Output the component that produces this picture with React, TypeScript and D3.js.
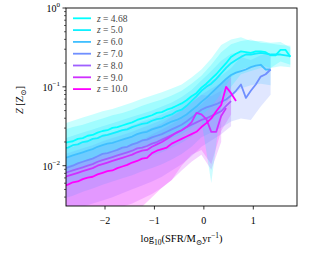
import React from 'react';
import * as d3 from 'd3';

// redshift labels + colours (matplotlib "cool" picks)
const redshifts = ['4.68', '5.0', '6.0', '7.0', '8.0', '9.0', '10.0'];
const colors = ['#00ffff', '#0ff0ff', '#40bfff', '#708fff', '#9f60ff', '#cf30ff', '#ff00ff'];

// log10(SFR) bins for the median lines
const sfrGrid = [
  -2.85, -2.75, -2.65, -2.55, -2.45, -2.35, -2.25, -2.15, -2.05, -1.95,
  -1.85, -1.75, -1.65, -1.55, -1.45, -1.35, -1.25, -1.15, -1.05, -0.95,
  -0.85, -0.75, -0.65, -0.55, -0.45, -0.35, -0.25, -0.15, -0.05, 0.05,
  0.15, 0.25, 0.35, 0.45, 0.55, 0.65, 0.75, 0.85, 0.95, 1.05,
  1.15, 1.25, 1.35, 1.45, 1.55, 1.65, 1.75,
];

// median log10(Z/Zsun) per bin
const medZ468 = [
  -1.72, -1.70, -1.69, -1.66, -1.65, -1.62, -1.61, -1.58, -1.56, -1.55,
  -1.52, -1.51, -1.49, -1.47, -1.45, -1.42, -1.40, -1.38, -1.36, -1.33,
  -1.32, -1.29, -1.27, -1.24, -1.21, -1.17, -1.12, -1.08, -1.01, -0.96,
  -0.90, -0.84, -0.77, -0.70, -0.62, -0.58, -0.55, -0.56, -0.57, -0.55,
  -0.55, -0.56, -0.60, -0.60, -0.53, -0.53, -0.62,
];
const medZ50 = [
  -1.78, -1.77, -1.74, -1.73, -1.70, -1.69, -1.66, -1.65, -1.62, -1.61,
  -1.59, -1.57, -1.55, -1.54, -1.51, -1.49, -1.47, -1.46, -1.43, -1.41,
  -1.40, -1.37, -1.35, -1.31, -1.29, -1.24, -1.18, -1.12, -1.05, -1.00,
  -0.96, -0.90, -0.83, -0.76, -0.70, -0.66, -0.62, -0.59, -0.59, -0.58,
  -0.57, -0.58, -0.59, -0.59, -0.59, -0.60, -0.61,
];
const medZ60 = [
  -1.91, -1.89, -1.87, -1.85, -1.83, -1.81, -1.79, -1.76, -1.74, -1.72,
  -1.71, -1.69, -1.67, -1.65, -1.63, -1.60, -1.58, -1.57, -1.54, -1.52,
  -1.50, -1.47, -1.44, -1.42, -1.39, -1.35, -1.30, -1.25, -1.19, -1.14,
  -1.08, -1.02, -0.96, -0.90, -0.85, -0.82, -0.80, -0.78, -0.75, -0.73,
  -0.72, -0.78, -0.78, null, null, null, null,
];
const medZ70 = [
  -2.04, -2.02, -2.00, -1.97, -1.95, -1.93, -1.91, -1.88, -1.85, -1.84,
  -1.82, -1.80, -1.77, -1.76, -1.73, -1.71, -1.68, -1.67, -1.64, -1.62,
  -1.60, -1.57, -1.54, -1.51, -1.48, -1.44, -1.39, -1.34, -1.29, -1.26,
  -1.24, -1.22, -1.19, -1.16, -1.11, -1.05, -0.97, -1.14, -1.05, -0.97,
  -0.87, -0.84, -0.78, null, null, null, null,
];
const medZ80 = [
  -2.10, -2.08, -2.06, -2.04, -2.02, -2.00, -1.98, -1.95, -1.93, -1.91,
  -1.89, -1.87, -1.85, -1.83, -1.81, -1.78, -1.77, -1.75, -1.72, -1.70,
  -1.67, -1.64, -1.61, -1.58, -1.55, -1.51, -1.48, -1.45, -1.42, -1.40,
  -1.37, -1.34, -1.31, -1.24, -1.18, null, null, null, null, null,
  null, null, null, null, null, null, null,
];
const medZ90 = [
  -2.15, -2.13, -2.11, -2.09, -2.07, -2.05, -2.03, -2.00, -1.98, -1.96,
  -1.94, -1.92, -1.90, -1.88, -1.86, -1.83, -1.81, -1.80, -1.76, -1.73,
  -1.70, -1.66, -1.62, -1.58, -1.55, -1.51, -1.45, -1.33, -1.35, -1.41,
  -1.57, -1.57, -1.37, -1.27, null, null, null, null, null, null,
  null, null, null, null, null, null, null,
];
const medZ100 = [
  -2.26, -2.24, -2.21, -2.20, -2.17, -2.15, -2.14, -2.11, -2.09, -2.07,
  -2.06, -2.03, -2.01, -1.99, -1.96, -1.94, -1.91, -1.90, -1.84, -1.81,
  -1.79, -1.77, -1.72, -1.69, -1.66, -1.63, -1.60, -1.57, -1.51, -1.46,
  -1.40, -1.31, -1.23, -1.00, -1.08, -1.18, null, null, null, null,
  null, null, null, null, null, null, null,
];

// coarser bins for the scatter bands (16th / 84th percentiles)
const bandGrid = [
  -2.85, -2.65, -2.45, -2.25, -2.05, -1.85, -1.65, -1.45, -1.25, -1.05,
  -0.85, -0.65, -0.45, -0.25, -0.05, 0.15, 0.35, 0.55, 0.75, 0.95,
  1.15, 1.35, 1.55, 1.75,
];
const hiZ468 = [-1.47, -1.43, -1.39, -1.35, -1.31, -1.28, -1.24, -1.20, -1.15, -1.11, -1.07, -1.02, -0.97, -0.88, -0.78, -0.64, -0.47, -0.40, -0.37, -0.42, -0.42, -0.44, -0.43, -0.50];
const loZ468 = [-2.02, -1.99, -1.95, -1.91, -1.86, -1.82, -1.79, -1.75, -1.70, -1.66, -1.62, -1.58, -1.53, -1.45, -1.36, -1.26, -1.08, -0.88, -0.78, -0.74, -0.72, -0.76, -0.68, -0.72];
const hiZ50 = [-1.55, -1.51, -1.48, -1.44, -1.40, -1.36, -1.33, -1.29, -1.24, -1.20, -1.16, -1.11, -1.05, -0.96, -0.86, -0.72, -0.56, -0.46, -0.42, -0.40, -0.44, -0.45, -0.47, -0.48];
const loZ50 = [-2.10, -2.06, -2.02, -1.98, -1.94, -1.90, -1.86, -1.82, -1.78, -1.74, -1.70, -1.65, -1.60, -1.52, -1.42, -2.22, -1.25, -1.00, -0.84, -0.80, -0.76, -0.76, -0.74, -0.75];
const hiZ60 = [-1.66, -1.62, -1.58, -1.54, -1.50, -1.46, -1.42, -1.38, -1.34, -1.30, -1.25, -1.20, -1.13, -1.04, -0.92, -0.80, -0.67, -0.58, -0.56, -0.56, -0.55, -0.60, null, null];
const loZ60 = [-2.25, -2.21, -2.17, -2.13, -2.08, -2.04, -2.00, -1.96, -1.91, -1.87, -1.83, -1.77, -1.71, -1.63, -1.52, -1.42, -1.30, -1.12, -1.02, -0.98, -0.96, -0.98, null, null];
const hiZ70 = [-1.80, -1.76, -1.71, -1.67, -1.62, -1.58, -1.54, -1.49, -1.44, -1.40, -1.35, -1.29, -1.22, -1.12, -1.00, -0.92, -0.86, -0.76, -0.62, -0.66, -0.60, -0.58, null, null];
const loZ70 = [-2.42, -2.38, -2.33, -2.29, -2.24, -2.20, -2.16, -2.12, -2.07, -2.03, -1.98, -1.92, -1.85, -1.76, -1.64, -1.58, -1.52, -1.44, -1.40, -1.42, -1.25, -1.10, null, null];
const hiZ80 = [-1.86, -1.82, -1.78, -1.74, -1.69, -1.65, -1.61, -1.57, -1.52, -1.47, -1.42, -1.36, -1.29, -1.20, -1.10, -1.02, -0.95, -0.88, null, null, null, null, null, null];
const loZ80 = [-2.60, -2.56, -2.52, -2.48, -2.44, -2.40, -2.35, -2.30, -2.25, -2.20, -2.14, -2.06, -1.98, -1.88, -1.76, -1.68, -1.60, -1.50, null, null, null, null, null, null];
const hiZ90 = [-1.92, -1.88, -1.84, -1.80, -1.75, -1.71, -1.67, -1.62, -1.57, -1.52, -1.46, -1.38, -1.30, -1.20, -1.10, -1.12, -1.05, null, null, null, null, null, null, null];
const loZ90 = [-2.75, -2.72, -2.68, -2.64, -2.60, -2.56, -2.52, -2.48, -2.42, -2.36, -2.28, -2.18, -2.06, -1.95, -1.86, -2.05, -1.70, null, null, null, null, null, null, null];
const hiZ100 = [-2.02, -1.98, -1.94, -1.90, -1.86, -1.82, -1.78, -1.73, -1.67, -1.60, -1.54, -1.47, -1.40, -1.32, -1.22, -1.10, -0.95, -0.85, null, null, null, null, null, null];
const loZ100 = [-3.00, -3.00, -2.95, -2.90, -2.85, -2.80, -2.74, -2.64, -2.52, -2.40, -2.28, -2.18, -2.00, -1.86, -1.80, -1.98, -1.56, -1.35, null, null, null, null, null, null];

const xTicks = [-2, -1, 0, 1];

const medians = [medZ468, medZ50, medZ60, medZ70, medZ80, medZ90, medZ100];
const highs = [hiZ468, hiZ50, hiZ60, hiZ70, hiZ80, hiZ90, hiZ100];
const lows = [loZ468, loZ50, loZ60, loZ70, loZ80, loZ90, loZ100];

const W = 331, H = 257;
const L = 66, T = 8, R = 297, B = 206;

export default function App() {
  const x = d3.scaleLinear().domain([-2.789, 1.884]).range([L, R]);
  const y = d3.scaleLog().domain([Math.pow(10, -2.511), 1]).range([B, T]);

  const lineGen = d3.line<[number, number | null]>()
    .defined(d => d[1] != null)
    .x(d => x(d[0]))
    .y(d => y(Math.pow(10, d[1] as number)));

  const areaGen = d3.area<[number, number | null, number | null]>()
    .defined(d => d[1] != null && d[2] != null)
    .x(d => x(d[0]))
    .y0(d => y(Math.pow(10, d[2] as number)))
    .y1(d => y(Math.pow(10, d[1] as number)));

  const yTicks = y.ticks();
  const font = '"Liberation Serif", "DejaVu Serif", serif';
  // high-z bands go underneath, low-z on top
  const bandOrder = d3.range(highs.length).reverse();

  return (
    <svg width={W} height={H} style={{ position: 'absolute', left: 0, top: 0, background: '#fff' }} fontFamily={font}>
      <defs>
        <clipPath id="plot">
          <rect x={L} y={T} width={R - L} height={B - T} />
        </clipPath>
      </defs>

      <g clipPath="url(#plot)">
        {bandOrder.map(i => (
          <path key={'b' + i}
            d={areaGen(bandGrid.map((v, j) => [v, highs[i][j], lows[i][j]] as [number, number | null, number | null])) || ''}
            fill={colors[i]} fillOpacity={0.21} stroke="none" />
        ))}
        {medians.map((m, i) => (
          <path key={'l' + i}
            d={lineGen(sfrGrid.map((v, j) => [v, m[j]] as [number, number | null])) || ''}
            fill="none" stroke={colors[i]} strokeWidth={1.8} strokeLinejoin="round" />
        ))}
      </g>

      {/* frame */}
      <rect x={L} y={T} width={R - L} height={B - T} fill="none" stroke="#000" strokeWidth={0.9} />

      {/* x axis */}
      {xTicks.map(t => (
        <g key={'x' + t}>
          <line x1={x(t)} x2={x(t)} y1={B} y2={B + 3.5} stroke="#000" strokeWidth={0.8} />
          <text x={x(t)} y={B + 18} fontSize={10} textAnchor="middle">{t < 0 ? '\u2212' + Math.abs(t) : String(t)}</text>
        </g>
      ))}

      {/* y axis */}
      {yTicks.map((t, i) => {
        const e = Math.log10(t);
        const major = Math.abs(e - Math.round(e)) < 1e-6;
        return (
          <g key={'y' + i}>
            <line x1={L - (major ? 3.5 : 2)} x2={L} y1={y(t)} y2={y(t)} stroke="#000" strokeWidth={major ? 0.8 : 0.6} />
            {major && (
              <text x={L - 6} y={y(t) + 4} fontSize={10} textAnchor="end">
                10<tspan dy={-5} fontSize={7}>{Math.round(e) === 0 ? '0' : '\u2212' + Math.abs(Math.round(e))}</tspan>
              </text>
            )}
          </g>
        );
      })}

      {/* axis labels */}
      <text transform="translate(23,100) rotate(-90)" fontSize={10.5} textAnchor="middle">
        <tspan fontStyle="italic">Z</tspan> [Z<tspan dy={2.5} fontSize={7.5}>⊙</tspan><tspan dy={-2.5}>]</tspan>
      </text>
      <text x={(L + R) / 2} y={242} fontSize={10.5} textAnchor="middle">
        log<tspan dy={3} fontSize={7.5}>10</tspan><tspan dy={-3}>(SFR/M</tspan><tspan dy={3} fontSize={7.5}>⊙</tspan><tspan dy={-3}>yr</tspan><tspan dy={-4.5} fontSize={7.5}>−1</tspan><tspan dy={4.5}>)</tspan>
      </text>

      {/* legend */}
      {redshifts.map((z, i) => {
        const ly = 18.3 + i * 11.8;
        return (
          <g key={'lg' + z}>
            <line x1={73} x2={91} y1={ly} y2={ly} stroke={colors[i]} strokeWidth={1.8} />
            <text x={97} y={ly + 3.2} fontSize={9.5} fill="#444">
              <tspan fontStyle="italic">z</tspan> = {z}
            </text>
          </g>
        );
      })}
    </svg>
  );
}
